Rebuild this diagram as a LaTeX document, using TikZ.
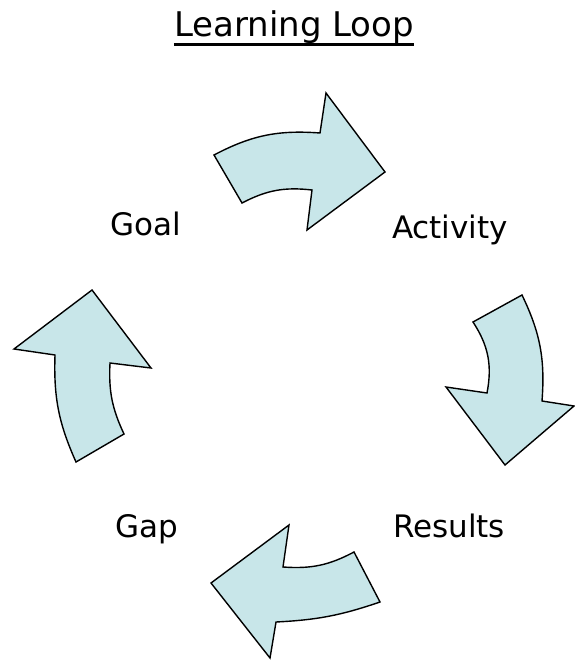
\documentclass[tikz,border=0pt]{standalone}
\usepackage{fontspec}
\setmainfont{DejaVu Sans}
\definecolor{arrowblue}{RGB}{200,230,233}

\begin{document}
\begin{tikzpicture}[x=1pt, y=-1pt,
    loop arrow/.style={draw=black, line width=1.4pt, fill=arrowblue, line join=miter},
    looptext/.style={font=\fontsize{31}{37}\selectfont, anchor=base, text=black}]
          \useasboundingbox (0,0) rectangle (574,660);

          % Title (underlined)
          \node[looptext, inner sep=0pt, font=\fontsize{34}{40}\selectfont] (title) at (294,37) {Learning Loop};
          \draw[line width=3pt] ([yshift=-7.5pt]title.base west) -- ([yshift=-7.5pt]title.base east);

          % Nodes for the stages of the loop
          \node[looptext] (goal) at (146,235) {Goal};
          \node[looptext] (activity) at (450,238) {Activity};
          \node[looptext] (results) at (449,537) {Results};
          \node[looptext] (gap) at (147,537) {Gap};

          % Curved arrows between the stages
          \draw[loop arrow] (214,155) to[bend left=16] (320,133) -- (326,93) -- (385,172)
            -- (307,230) -- (312,190) to[bend right=17] (242,203) -- cycle;
          \draw[loop arrow] (522,295) to[bend left=15] (542,401) -- (574,406) -- (505,465)
            -- (446,387) -- (487,393) to[bend right=22] (473,322) -- cycle;
          \draw[loop arrow] (283,567) to[bend right=16] (354,552) -- (380,602)
            to[bend left=8] (276,622) -- (270,658) -- (211,583) -- (289,525) -- cycle;
          \draw[loop arrow] (55,355) to[bend right=13] (76,462) -- (124,434)
            to[bend left=14] (110,363) -- (151,368) -- (92,290) -- (14,349) -- cycle;
        \end{tikzpicture}
\end{document}
